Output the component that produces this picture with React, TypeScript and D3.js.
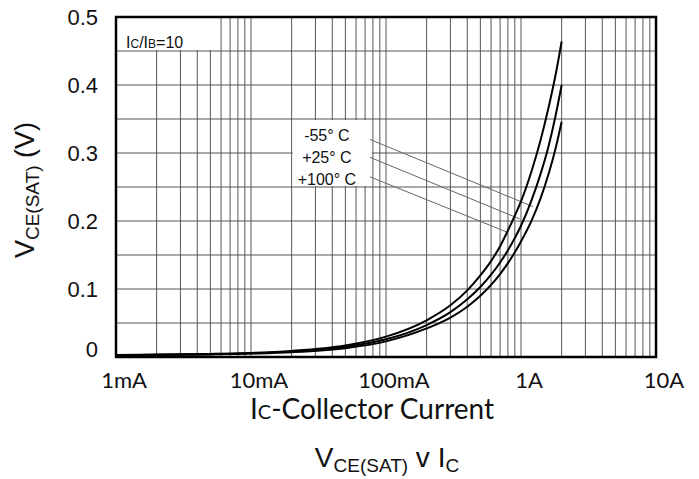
import React from "react";
import * as d3 from "d3";

// ---- data ----
const CURRENT_A = [0.001, 0.002, 0.005, 0.01, 0.02, 0.05, 0.1, 0.2, 0.3, 0.4, 0.5, 0.6, 0.7, 0.8, 0.9, 1.0, 1.2, 1.4, 1.6, 1.8, 2.0];
const V_PLUS100 = [0.003, 0.0035, 0.0045, 0.006, 0.009, 0.017, 0.030, 0.054, 0.076, 0.098, 0.120, 0.141, 0.163, 0.186, 0.208, 0.229, 0.274, 0.320, 0.367, 0.414, 0.464];
const V_PLUS25 = [0.0028, 0.0033, 0.0042, 0.0055, 0.008, 0.015, 0.026, 0.047, 0.066, 0.085, 0.103, 0.121, 0.139, 0.157, 0.175, 0.193, 0.231, 0.270, 0.310, 0.354, 0.400];
const V_MINUS55 = [0.0025, 0.003, 0.0038, 0.005, 0.007, 0.013, 0.023, 0.042, 0.058, 0.074, 0.090, 0.106, 0.122, 0.138, 0.154, 0.170, 0.201, 0.234, 0.269, 0.306, 0.346];

const SERIES_LABELS = ["-55° C", "+25° C", "+100° C"];
const POINTER_START_I = [0.076, 0.076, 0.076];
const POINTER_START_V = [0.320, 0.2937, 0.265];
const POINTER_END_I = [1.23, 0.98, 0.78];
const POINTER_END_V = [0.221, 0.203, 0.184];
const LABEL_I = [0.0365, 0.0365, 0.0365];
const LABEL_V = [0.326, 0.2935, 0.261];

const X_TICKS = [0.001, 0.01, 0.1, 1, 10];
const X_TICK_LABELS = ["1mA", "10mA", "100mA", "1A", "10A"];
const Y_TICKS = [0, 0.1, 0.2, 0.3, 0.4, 0.5];
const Y_TICK_LABELS = ["0", "0.1", "0.2", "0.3", "0.4", "0.5"];

const W = 699;
const H = 479;
const PL = 116, PR = 656, PT = 17, PB = 357;

export default function App() {
  const x = d3.scaleLog().domain([0.001, 10]).range([PL, PR]);
  const y = d3.scaleLinear().domain([0, 0.5]).range([PB, PT]);

  const vGrid: number[] = [];
  for (let d = 0.001; d < 10; d *= 10) {
    for (let m = 2; m <= 9; m++) vGrid.push(d * m);
  }
  for (let d = 0.001; d <= 10; d *= 10) vGrid.push(d);
  const hGrid = d3.range(0, 11).map((i) => i * 0.05);

  const line = d3
    .line<[number, number]>()
    .x((d) => x(d[0]))
    .y((d) => y(d[1]))
    .curve(d3.curveMonotoneX);

  const series = [V_PLUS100, V_PLUS25, V_MINUS55].map((vals) =>
    CURRENT_A.map((c, i) => [c, vals[i]] as [number, number])
  );

  const fontY = "'Liberation Sans', Arial, sans-serif";
  const fontX = "Lato, 'Liberation Sans', sans-serif";

  return (
    <div style={{ position: "absolute", left: 0, top: 0 }}>
      <svg width={W} height={H} style={{ display: "block", background: "#fff" }}>
        <rect x={0} y={0} width={W} height={H} fill="#fff" />
        {/* grid */}
        <g stroke="#555" strokeWidth={1}>
          {vGrid.map((v, i) => (
            <line key={"v" + i} x1={x(v)} x2={x(v)} y1={PT} y2={PB} />
          ))}
          {hGrid.map((v, i) => (
            <line key={"h" + i} x1={PL} x2={PR} y1={y(v)} y2={y(v)} />
          ))}
        </g>
        {/* white annotation boxes */}
        <rect x={x(0.001) + 1} y={y(0.5) + 1} width={x(0.006) - x(0.001) - 2} height={y(0.45) - y(0.5) - 2} fill="#fff" />
        <rect x={x(0.02) + 1} y={y(0.35) + 1} width={x(0.08) - x(0.02) - 2} height={y(0.25) - y(0.35) - 2} fill="#fff" />

        {/* IC/IB label */}
        <text x={x(0.001) + 10} y={y(0.5) + 31} fontFamily={fontY} fontSize={16} fill="#111">
          I<tspan fontSize={12}>C</tspan>/I<tspan fontSize={12}>B</tspan>=10
        </text>

        {/* pointer lines */}
        <g stroke="#666" strokeWidth={1}>
          {SERIES_LABELS.map((_, i) => (
            <line key={"p" + i} x1={x(POINTER_START_I[i])} y1={y(POINTER_START_V[i])} x2={x(POINTER_END_I[i])} y2={y(POINTER_END_V[i])} />
          ))}
        </g>
        {SERIES_LABELS.map((s, i) => (
          <text key={"l" + i} x={x(LABEL_I[i])} y={y(LABEL_V[i])} textAnchor="middle" dominantBaseline="central" fontFamily={fontY} fontSize={16} fill="#111">
            {s}
          </text>
        ))}

        {/* curves */}
        {series.map((s, i) => (
          <path key={"c" + i} d={line(s) || ""} fill="none" stroke="#000" strokeWidth={2} />
        ))}

        {/* frame */}
        <rect x={PL} y={PT} width={PR - PL} height={PB - PT} fill="none" stroke="#000" strokeWidth={2.5} />

        {/* y tick labels */}
        {Y_TICKS.map((v, i) => (
          <text key={"yt" + i} x={98} y={y(v) - (v === 0 ? 8 : 0)} textAnchor="end" dominantBaseline="central" fontFamily={fontY} fontSize={22} fill="#111">
            {Y_TICK_LABELS[i]}
          </text>
        ))}
        {/* x tick labels */}
        {X_TICKS.map((v, i) => (
          <text key={"xt" + i} x={x(v) + 8} y={379} textAnchor="middle" dominantBaseline="central" fontFamily={fontX} fontSize={22} fill="#111">
            {X_TICK_LABELS[i]}
          </text>
        ))}

        {/* x axis title */}
        <text x={372} y={419} textAnchor="middle" fontFamily={fontX} fontSize={28} fill="#111">
          I<tspan fontSize={20}>C</tspan>-Collector Current
        </text>

        {/* y axis title */}
        <text transform={`translate(34, ${190}) rotate(-90)`} textAnchor="middle" fontFamily={fontY} fontSize={27} fill="#111">
          V<tspan fontSize={19} dy={5}>CE(SAT)</tspan>
          <tspan dy={-5}> (V)</tspan>
        </text>

        {/* chart title */}
        <text x={387} y={467} textAnchor="middle" fontFamily={fontY} fontSize={28} fill="#111">
          V<tspan fontSize={19} dy={5}>CE(SAT)</tspan>
          <tspan dy={-5}> v I</tspan>
          <tspan fontSize={19} dy={5}>C</tspan>
        </text>
      </svg>
    </div>
  );
}
